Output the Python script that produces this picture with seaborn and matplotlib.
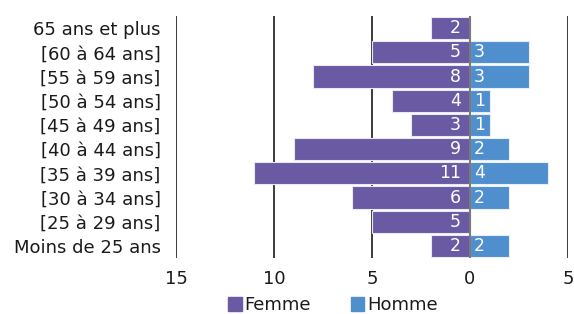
import pandas as pd
import seaborn as sns
from matplotlib import pyplot as plt
from matplotlib.patches import Patch

# age groups, top to bottom
ages = ['65 ans et plus', '[60 à 64 ans]', '[55 à 59 ans]', '[50 à 54 ans]', '[45 à 49 ans]',
        '[40 à 44 ans]', '[35 à 39 ans]', '[30 à 34 ans]', '[25 à 29 ans]', 'Moins de 25 ans']
femme = [2, 5, 8, 4, 3, 9, 11, 6, 5, 2]
homme = [0, 3, 3, 1, 1, 2, 4, 2, 0, 2]
xticks = [-15, -10, -5, 0, 5]
xtick_labels = ['15', '10', '5', '0', '5']

col_f = '#6a5aa3'
col_h = '#4f8fcd'

df = pd.DataFrame({'age': ages, 'Femme': [-v for v in femme], 'Homme': homme})

sns.set_style('white')
plt.rcParams['font.family'] = ['DejaVu Sans']
plt.rcParams['text.color'] = '#1a1a1a'
plt.rcParams['xtick.color'] = '#1a1a1a'
plt.rcParams['ytick.color'] = '#1a1a1a'

fig, ax = plt.subplots(figsize=(5.74, 3.14), dpi=100)
fig.subplots_adjust(left=176 / 574, right=568 / 574, top=1 - 16 / 314, bottom=1 - 258 / 314)

# vertical grid lines behind bars
for t in [-15, -10, -5, 5]:
    ax.axvline(t, color='#1a1a1a', lw=1.2, zorder=0)

sns.barplot(data=df, y='age', x='Femme', color=col_f, saturation=1, width=0.92, ax=ax,
            edgecolor='#e8e8f0', linewidth=0.8, zorder=2)
sns.barplot(data=df, y='age', x='Homme', color=col_h, saturation=1, width=0.92, ax=ax,
            edgecolor='#e8eef8', linewidth=0.8, zorder=2)
ax.axvline(0, color='#7a7a7a', lw=1.5, zorder=3)

# value labels inside bars
for i, (f, h) in enumerate(zip(femme, homme)):
    if f:
        ax.text(-0.45, i, str(f), color='white', ha='right', va='center', fontsize=12.5, zorder=4)
    if h:
        ax.text(0.2, i, str(h), color='white', ha='left', va='center', fontsize=12.5, zorder=4)

ax.set_xlim(-15, 5)
ax.set_ylim(len(ages) - 0.5, -0.5)
ax.set_xticks(xticks)
ax.set_xticklabels(xtick_labels, fontsize=13)
ax.tick_params(axis='x', length=0, pad=9)
ax.tick_params(axis='y', length=0, pad=11, labelsize=13)
ax.set_xlabel('')
ax.set_ylabel('')
sns.despine(ax=ax, left=True, bottom=True)

handles = [Patch(color=col_f, label='Femme'), Patch(color=col_h, label='Homme')]
fig.legend(handles=handles, loc='center', bbox_to_anchor=(0.58, 1 - 305 / 314), ncol=2,
           frameon=False, fontsize=13, handlelength=0.75, handleheight=0.85,
           handletextpad=0.15, columnspacing=2.2)

fig.savefig('out.png', dpi=100)
